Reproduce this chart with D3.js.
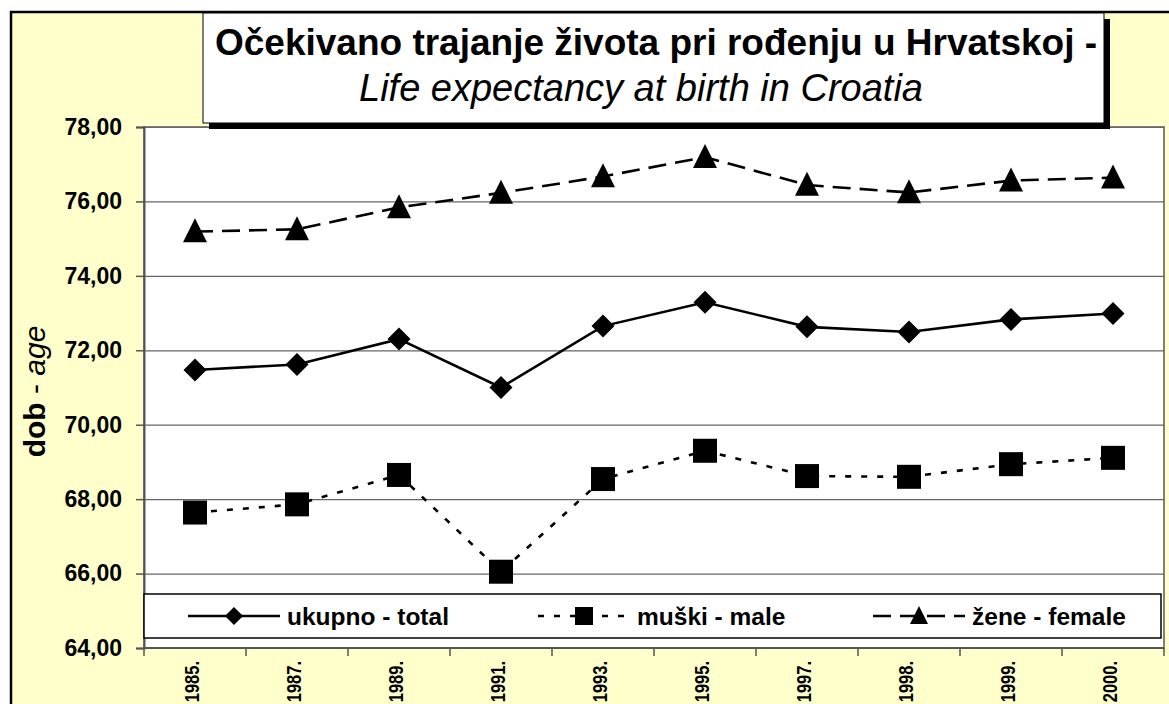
<!DOCTYPE html>
<html lang="hr">
<head>
	<meta charset="UTF-8"/>
	<title>Očekivano trajanje života pri rođenju u Hrvatskoj</title>
	<script src="https://d3js.org/d3.v7.min.js"></script>
	<style>
		body { margin:0; background:#ffffff; }
		svg { display:block; font-family:"Liberation Sans", Arial, Helvetica, sans-serif; }
	</style>
</head>
<body>
<script>
	var w = 1169;
	var h = 704;

	// ---------- data ----------
	var years  = ["1985.","1987.","1989.","1991.","1993.","1995.","1997.","1998.","1999.","2000."];
	var total  = [71.47,71.62,72.30,71.00,72.65,73.29,72.63,72.49,72.83,72.99];
	var male   = [67.64,67.86,68.65,66.05,68.54,69.30,68.62,68.60,68.94,69.11];
	var female = [75.19,75.25,75.84,76.23,76.67,77.19,76.44,76.24,76.56,76.64];
	var yTicks = [64,66,68,70,72,74,76,78];

	var series = [
		{name:"ukupno - total", values:total,  marker:"diamond",  dash:null},
		{name:"muški - male",   values:male,   marker:"square",   dash:"6,10"},
		{name:"žene - female",  values:female, marker:"triangle", dash:"18,9"}
	];

	var plot = {left:144, right:1164, top:127, bottom:648};

	var xScale = d3.scaleBand()
				.domain(years)
				.range([plot.left, plot.right]);

	var yScale = d3.scaleLinear()
				.domain([64,78])
				.range([plot.bottom, plot.top]);

	function cx(i){ return xScale(years[i]) + xScale.bandwidth()/2; }
	function fmt(d){ return d.toFixed(2).replace(".", ","); }

	var svg = d3.select("body")
				.append("svg")
				.attr("width", w)
				.attr("height", h);

	//-------------- chart background ---------------
	svg.append("rect")
		.attr("x", 11).attr("y", 12)
		.attr("width", w + 20).attr("height", h + 20)
		.attr("fill", "#ffffcc")
		.attr("stroke", "#000")
		.attr("stroke-width", 2.5);

	//-------------- plot area ---------------
	svg.append("rect")
		.attr("x", plot.left).attr("y", plot.top)
		.attr("width", plot.right - plot.left)
		.attr("height", plot.bottom - plot.top)
		.attr("fill", "#ffffff")
		.attr("stroke", "#808080")
		.attr("stroke-width", 2);

	// gridlines
	svg.append("g")
		.attr("transform", "translate(" + plot.left + ",0)")
		.call(d3.axisLeft(yScale).tickValues(yTicks).tickSize(-(plot.right - plot.left)).tickFormat(""))
		.call(function(g){
			g.select(".domain").remove();
			g.selectAll("line").attr("stroke", "#666").attr("stroke-width", 1.2);
		});

	// y axis
	svg.append("g")
		.attr("transform", "translate(" + plot.left + ",0)")
		.call(d3.axisLeft(yScale).tickValues(yTicks).tickSize(8).tickPadding(14).tickFormat(fmt))
		.call(function(g){
			g.select(".domain").attr("stroke", "#555").attr("stroke-width", 2);
			g.selectAll("line").attr("stroke", "#555").attr("stroke-width", 1.5);
			g.selectAll("text")
				.attr("font-family", "'Liberation Sans', Arial, sans-serif")
				.attr("font-size", 23)
				.attr("font-weight", "bold")
				.attr("fill", "#000");
		});

	// x axis: ticks between categories, labels rotated (cut at the bottom edge like the original)
	var xEdges = years.map(function(d){ return xScale(d); }).concat([plot.right]);
	svg.append("line")
		.attr("x1", plot.left).attr("x2", plot.right)
		.attr("y1", plot.bottom).attr("y2", plot.bottom)
		.attr("stroke", "#555").attr("stroke-width", 2);

	svg.selectAll(".xtick")
		.data(xEdges)
		.enter()
		.append("line")
		.attr("class", "xtick")
		.attr("x1", function(d){ return d; })
		.attr("x2", function(d){ return d; })
		.attr("y1", plot.bottom)
		.attr("y2", plot.bottom + 8)
		.attr("stroke", "#555")
		.attr("stroke-width", 1.5);

	svg.selectAll(".xlabel")
		.data(years)
		.enter()
		.append("text")
		.attr("class", "xlabel")
		.attr("transform", function(d){
			return "translate(" + (xScale(d) + xScale.bandwidth()/2 + 4) + "," + (plot.bottom + 13) + ") rotate(-90) scale(1,1.2)";
		})
		.attr("text-anchor", "end")
		.attr("font-size", 16.5)
		.attr("font-weight", "bold")
		.text(function(d){ return d; });

	// y axis title
	var ytitle = svg.append("text")
		.attr("transform", "translate(45," + ((plot.top + plot.bottom)/2 + 4) + ") rotate(-90)")
		.attr("text-anchor", "middle")
		.attr("font-size", 30);
	ytitle.append("tspan").attr("font-weight", "bold").text("dob");
	ytitle.append("tspan").text(" - ");
	ytitle.append("tspan").attr("font-style", "italic").text("age");

	//-------------- lines and markers ---------------
	var line = d3.line()
				.x(function(d,i){ return cx(i); })
				.y(function(d){ return yScale(d); });

	function drawMarker(g, type, x, y, s){
		if (type == "diamond") {
			g.append("path")
				.attr("d", "M" + x + "," + (y - s/2) + "L" + (x + s/2) + "," + y + "L" + x + "," + (y + s/2) + "L" + (x - s/2) + "," + y + "Z")
				.attr("fill", "#000");
		} else if (type == "square") {
			g.append("rect")
				.attr("x", x - s/2).attr("y", y - s/2)
				.attr("width", s).attr("height", s)
				.attr("fill", "#000");
		} else {
			g.append("path")
				.attr("d", "M" + x + "," + (y - s*0.55) + "L" + (x + s/2) + "," + (y + s*0.45) + "L" + (x - s/2) + "," + (y + s*0.45) + "Z")
				.attr("fill", "#000");
		}
	}

	var sizes = {diamond:23, square:24, triangle:24};

	series.forEach(function(s){
		svg.append("path")
			.datum(s.values)
			.attr("d", line)
			.attr("fill", "none")
			.attr("stroke", "#000")
			.attr("stroke-width", 2.6)
			.attr("stroke-dasharray", s.dash);

		var g = svg.append("g");
		s.values.forEach(function(v,i){
			drawMarker(g, s.marker, cx(i), yScale(v), sizes[s.marker]);
		});
	});

	//-------------- legend ---------------
	svg.append("rect")
		.attr("x", plot.left).attr("y", 594)
		.attr("width", 1161 - plot.left).attr("height", 44)
		.attr("fill", "#ffffff")
		.attr("stroke", "#000")
		.attr("stroke-width", 1.5);

	var legendX = [188, 538, 873];
	var legendY = 616;
	series.forEach(function(s,i){
		var g = svg.append("g");
		var x0 = legendX[i];
		g.append("line")
			.attr("x1", x0).attr("x2", x0 + 92)
			.attr("y1", legendY).attr("y2", legendY)
			.attr("stroke", "#000")
			.attr("stroke-width", 2.6)
			.attr("stroke-dasharray", s.dash);
		drawMarker(g, s.marker, x0 + 46, legendY, 18);
		g.append("text")
			.attr("x", x0 + 99)
			.attr("y", legendY + 9)
			.attr("font-size", 24.5)
			.attr("font-weight", "bold")
			.text(s.name);
	});

	//-------------- title box ---------------
	svg.append("rect")
		.attr("x", 209).attr("y", 19)
		.attr("width", 901).attr("height", 110)
		.attr("fill", "#000");
	svg.append("rect")
		.attr("x", 203).attr("y", 13)
		.attr("width", 901).attr("height", 110)
		.attr("fill", "#ffffff")
		.attr("stroke", "#000")
		.attr("stroke-width", 1);

	svg.append("text")
		.attr("x", 656).attr("y", 55)
		.attr("text-anchor", "middle")
		.attr("font-size", 37)
		.attr("font-weight", "bold")
		.text("Očekivano trajanje života pri rođenju u Hrvatskoj -");

	svg.append("text")
		.attr("x", 641).attr("y", 101)
		.attr("text-anchor", "middle")
		.attr("font-size", 38)
		.attr("font-style", "italic")
		.text("Life expectancy at birth in Croatia");
</script>
</body>
</html>
